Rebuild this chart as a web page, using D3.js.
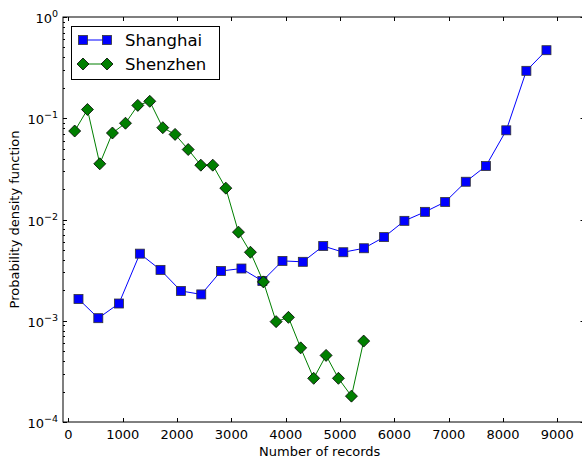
<!DOCTYPE html>
<html>
<head>
<meta charset="utf-8">
<script src="https://cdn.jsdelivr.net/npm/d3@7"></script>
<style>
  body { margin: 0; background: #fff; }
  text { font-family: "DejaVu Sans", sans-serif; }
</style>
</head>
<body>
<div id="chart"></div>
<script>
// Shanghai (squares) and Shenzhen (diamonds)
const shanghaiX = [185, 550, 930, 1315, 1695, 2070, 2445, 2810, 3185, 3570, 3940, 4315, 4690, 5060, 5440, 5810, 6185, 6565, 6935, 7315, 7685, 8060, 8430, 8800];
const shanghaiY = [1.64e-3, 1.06e-3, 1.48e-3, 4.6e-3, 3.18e-3, 1.97e-3, 1.82e-3, 3.1e-3, 3.28e-3, 2.47e-3, 3.9e-3, 3.82e-3, 5.47e-3, 4.75e-3, 5.2e-3, 6.7e-3, 9.7e-3, 1.19e-2, 1.49e-2, 2.36e-2, 3.37e-2, 7.6e-2, 0.294, 0.47];
const shenzhenX = [115, 350, 577, 810, 1050, 1277, 1497, 1737, 1963, 2205, 2437, 2657, 2897, 3130, 3350, 3590, 3823, 4050, 4275, 4515, 4743, 4970, 5210, 5435];
const shenzhenY = [0.0748, 0.122, 0.0355, 0.0715, 0.0893, 0.134, 0.147, 0.0807, 0.0693, 0.0491, 0.0344, 0.0344, 0.0204, 7.5e-3, 4.75e-3, 2.42e-3, 9.8e-4, 1.08e-3, 5.4e-4, 2.7e-4, 4.55e-4, 2.7e-4, 1.8e-4, 6.3e-4];
const xTicks = [0, 1000, 2000, 3000, 4000, 5000, 6000, 7000, 8000, 9000];
const yTicks = [0, -1, -2, -3, -4];

const W = 582, H = 461;
const mLeft = 63, mRight = 584.5, mTop = 17, mBottom = 422;
const black = "#000";

const svg = d3.select("#chart").append("svg")
  .attr("width", W).attr("height", H);

const x = d3.scaleLinear().domain([-100, 9500]).range([mLeft, mRight]);
const y = d3.scaleLog().domain([1e-4, 1]).range([mBottom, mTop]);

// frame
svg.append("rect")
  .attr("x", mLeft).attr("y", mTop)
  .attr("width", mRight - mLeft).attr("height", mBottom - mTop)
  .attr("fill", "none").attr("stroke", black).attr("stroke-width", 1);

// x ticks (inside, top and bottom)
xTicks.forEach(t => {
  let px = Math.round(x(t)) + 0.5;
  svg.append("line").attr("x1", px).attr("x2", px).attr("y1", mBottom).attr("y2", mBottom - 4)
    .attr("stroke", black);
  svg.append("line").attr("x1", px).attr("x2", px).attr("y1", mTop).attr("y2", mTop + 4)
    .attr("stroke", black);
  svg.append("text").text(t)
    .attr("x", x(t)).attr("y", mBottom + 16.5)
    .attr("text-anchor", "middle").attr("font-size", 13).attr("fill", black);
});

// y ticks major + minor
yTicks.forEach(e => {
  let py = Math.round(y(Math.pow(10, e))) + 0.5;
  svg.append("line").attr("x1", mLeft).attr("x2", mLeft + 4).attr("y1", py).attr("y2", py).attr("stroke", black);
  svg.append("line").attr("x1", mRight).attr("x2", mRight - 4).attr("y1", py).attr("y2", py).attr("stroke", black);
  let lab = svg.append("text")
    .attr("x", mLeft - 5).attr("y", py + 5)
    .attr("text-anchor", "end").attr("font-size", 13).attr("fill", black);
  lab.append("tspan").text("10");
  lab.append("tspan").text(e === 0 ? "0" : "\u2212" + (-e))
    .attr("dy", -6).attr("font-size", 9.5);
  if (e < 0) {
    for (let k = 2; k <= 9; k++) {
      let v = k * Math.pow(10, e);
      let pm = Math.round(y(v)) + 0.5;
      svg.append("line").attr("x1", mLeft).attr("x2", mLeft + 2).attr("y1", pm).attr("y2", pm).attr("stroke", black);
      svg.append("line").attr("x1", mRight).attr("x2", mRight - 2).attr("y1", pm).attr("y2", pm).attr("stroke", black);
    }
  }
});

// axis labels
svg.append("text").text("Number of records")
  .attr("x", (mLeft + mRight) / 2 - 4).attr("y", mBottom + 34)
  .attr("text-anchor", "middle").attr("font-size", 13).attr("fill", black);
svg.append("text").text("Probability density function")
  .attr("transform", `translate(19,${(mTop + mBottom) / 2}) rotate(-90)`)
  .attr("text-anchor", "middle").attr("font-size", 13).attr("fill", black);

const line = d3.line().x(d => x(d[0])).y(d => y(d[1]));
const sh = shanghaiX.map((v, i) => [v, shanghaiY[i]]);
const sz = shenzhenX.map((v, i) => [v, shenzhenY[i]]);

const plot = svg.append("g");
plot.append("path").datum(sh).attr("d", line)
  .attr("fill", "none").attr("stroke", "#0000ff").attr("stroke-width", 1);
plot.selectAll(".sq").data(sh).enter().append("rect")
  .attr("x", d => x(d[0]) - 4.5).attr("y", d => y(d[1]) - 4.5)
  .attr("width", 9).attr("height", 9)
  .attr("fill", "#0000ff").attr("stroke", "#333").attr("stroke-width", 0.8);

const diamond = "M0,-6L6,0L0,6L-6,0Z";
plot.append("path").datum(sz).attr("d", line)
  .attr("fill", "none").attr("stroke", "#007f00").attr("stroke-width", 1);
plot.selectAll(".dm").data(sz).enter().append("path")
  .attr("d", diamond)
  .attr("transform", d => `translate(${x(d[0])},${y(d[1])})`)
  .attr("fill", "#007f00").attr("stroke", black).attr("stroke-width", 0.8);

// legend
const lg = svg.append("g");
lg.append("rect").attr("x", 71.5).attr("y", 26.5).attr("width", 148).attr("height", 53)
  .attr("fill", "#fff").attr("stroke", black).attr("stroke-width", 1);
lg.append("line").attr("x1", 83).attr("x2", 107).attr("y1", 40).attr("y2", 40)
  .attr("stroke", "#0000ff");
[83, 107].forEach(px => {
  lg.append("rect").attr("x", px - 4.5).attr("y", 40 - 4.5).attr("width", 9).attr("height", 9)
    .attr("fill", "#0000ff").attr("stroke", "#333").attr("stroke-width", 0.8);
});
lg.append("line").attr("x1", 83).attr("x2", 107).attr("y1", 64).attr("y2", 64)
  .attr("stroke", "#007f00");
[83, 107].forEach(px => {
  lg.append("path").attr("d", diamond).attr("transform", `translate(${px},64)`)
    .attr("fill", "#007f00").attr("stroke", black).attr("stroke-width", 0.8);
});
lg.append("text").text("Shanghai").attr("x", 125).attr("y", 46)
  .attr("font-size", 16.5).attr("fill", black);
lg.append("text").text("Shenzhen").attr("x", 125).attr("y", 70)
  .attr("font-size", 16.5).attr("fill", black);
</script>
</body>
</html>
